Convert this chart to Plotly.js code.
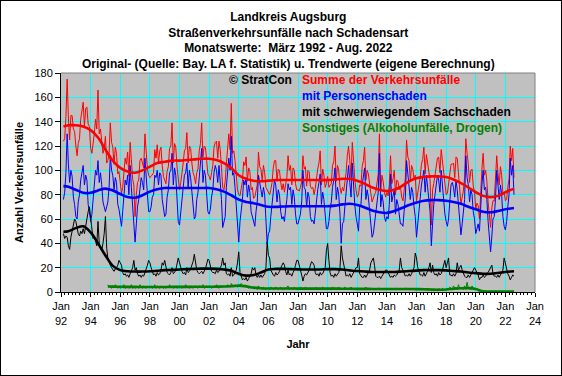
<!DOCTYPE html>
<html><head><meta charset="utf-8">
<script src="https://cdn.plot.ly/plotly-3.0.1.min.js"></script>
<style>html,body{margin:0;padding:0;background:#fff}#wrap{width:560px;height:374px;border:1px solid #000}#chart{width:560px;height:374px}</style>
</head><body><div id="wrap"><div id="chart"></div></div>
<script>
// monthly series start March 1992 (green from March 1995), end Aug 2022
const startYear = 1992, startMon = 3;
const greenStartYear = 1995, greenStartMon = 3;

const summe = [
124,126,144,175,143,125,145,145,134,132,
120,112,122,126,142,148,156,136,151,152,138,136,
118,114,120,130,142,134,166,130,134,122,114,118,
128,106,108,114,139,123,119,105,119,114,97,99,
89,81,86,98,110,105,115,95,123,109,93,88,
62,80,90,92,108,110,107,102,130,113,101,96,
94,95,97,98,117,110,121,106,116,119,104,95,
92,89,99,103,118,120,139,106,122,119,103,90,
84,90,96,106,116,118,131,106,120,118,106,98,
95,89,98,101,116,122,139,111,120,119,108,97,
95,92,98,104,119,123,124,110,124,117,102,86,
84,91,105,116,130,117,155,114,116,108,93,84,
80,79,85,91,107,104,111,91,102,99,84,86,
77,78,83,88,115,103,101,92,104,98,86,84,
81,80,84,90,102,108,108,91,101,100,90,84,
89,82,88,94,112,100,104,88,102,100,89,84,
84,83,86,91,112,101,103,87,100,99,87,85,
86,80,85,94,101,106,116,88,101,96,86,89,
95,86,87,89,104,107,120,91,104,100,86,81,
86,83,90,98,112,120,108,94,123,102,93,84,
78,80,88,87,103,108,119,92,100,97,86,81,
74,78,80,82,88,97,130,83,96,91,82,78,
82,79,88,112,89,93,100,80,92,91,84,87,
78,75,83,94,125,111,108,91,104,101,93,96,
75,81,86,94,105,109,119,97,113,106,96,92,
55,84,89,96,107,110,111,98,117,109,98,92,
80,81,90,98,105,105,106,94,111,110,96,85,
72,78,83,94,126,114,105,90,100,101,87,82,
68,73,71,60,86,101,114,96,100,91,74,66,
53,69,75,75,90,112,98,88,103,96,80,82,
75,76,86,93,120,108,118,94];

const personen = [
76,82,98,130,105,90,100,95,78,72,
62,60,74,80,92,100,104,88,96,92,72,66,
58,64,76,84,100,96,108,90,98,88,74,70,
66,70,74,86,112,100,96,84,94,90,72,68,
62,54,66,78,92,88,96,80,104,86,70,58,
41,56,70,76,88,94,90,84,110,92,74,66,
66,70,78,80,96,94,100,88,98,96,76,70,
62,64,78,84,98,100,114,88,102,96,78,58,
55,66,76,86,96,98,106,86,100,94,80,70,
60,62,76,82,96,102,118,90,100,96,80,66,
64,68,78,84,98,104,100,90,104,92,76,53,
58,62,86,96,110,100,128,96,98,86,70,56,
41,58,66,76,92,88,94,78,88,82,66,62,
56,54,66,74,96,88,84,78,86,80,64,40,
48,50,62,72,86,92,88,74,84,80,66,60,
62,58,68,76,89,84,86,72,84,78,64,56,
56,60,64,74,100,86,84,70,82,78,62,58,
59,56,66,76,84,90,97,72,82,76,64,52,
52,58,68,74,86,92,102,76,86,80,64,40,
56,58,70,82,96,104,90,78,106,84,72,62,
55,50,70,72,88,94,102,76,84,78,66,54,
45,48,56,66,74,82,114,70,80,74,62,58,
62,60,72,97,74,78,84,64,76,72,64,56,
56,54,66,78,108,96,90,76,86,82,70,62,
45,58,68,78,88,94,100,82,96,86,74,66,
38,60,72,80,90,96,92,82,100,88,74,64,
58,54,60,80,88,90,86,78,92,84,72,62,
47,56,66,76,112,94,88,74,84,80,66,60,
48,54,56,50,74,88,100,84,86,76,58,48,
33,46,60,62,76,100,84,76,88,80,62,54,
51,58,70,80,110,96,104,80];

const sachschaden = [
48,44,46,45,38,35,45,50,56,60,
58,52,48,46,50,48,52,48,55,60,66,70,
60,50,44,46,42,38,58,40,36,34,40,48,
62,36,28,24,22,20,18,17,19,20,22,26,
24,22,16,14,15,13,14,12,15,17,20,26,
18,20,15,13,14,12,14,13,16,18,22,26,
24,20,16,14,15,13,16,14,15,18,24,22,
26,22,16,15,14,16,20,15,16,18,22,28,
24,20,17,15,16,14,20,16,17,19,22,25,
31,22,18,16,15,16,17,15,17,19,23,27,
26,20,17,16,16,15,18,16,17,20,22,28,
22,24,15,14,15,13,20,13,14,16,18,24,
33,16,12,10,11,10,12,9,11,13,15,20,
18,20,14,12,14,12,14,12,14,15,20,41,
30,28,18,15,14,13,16,14,15,17,20,22,
24,22,17,14,18,14,15,13,16,18,22,26,
26,20,18,14,9,13,15,14,16,18,22,25,
24,22,16,14,15,13,16,14,15,17,20,34,
40,26,16,13,14,12,15,13,15,16,20,38,
28,22,16,13,14,13,15,12,14,16,18,20,
20,28,15,13,12,12,14,12,14,16,18,24,
26,28,22,13,12,12,13,11,13,15,17,18,
18,16,14,12,13,12,14,13,14,16,18,28,
20,18,15,13,14,13,15,13,15,17,20,32,
28,20,16,14,14,13,16,13,15,17,20,24,
16,22,16,14,15,13,16,14,15,18,22,26,
20,24,28,14,14,13,15,13,15,24,18,20,
22,18,15,13,12,12,14,12,14,16,18,20,
18,16,14,10,12,12,14,12,13,15,16,18,
20,22,15,13,13,12,14,12,14,16,18,28,
24,18,15,13,10,12,14,13];

const sonstiges = [
6,4,5,3,5,4,6,4,3,5,
3,5,4,6,3,4,5,3,4,6,3,4,
3,4,5,3,6,4,3,5,4,3,5,4,
4,5,3,4,6,3,5,4,3,5,4,3,
4,3,5,4,6,4,5,3,4,5,3,4,
5,4,3,5,4,6,5,4,3,5,4,3,
4,5,4,3,5,4,4,6,3,4,5,4,
5,4,3,4,5,4,6,4,3,5,4,5,
4,5,4,6,5,4,7,5,4,6,5,4,
6,5,7,5,4,6,5,4,3,4,3,4,
3,4,3,2,5,3,3,2,4,3,2,3,
3,2,4,3,2,3,4,3,2,3,4,2,
3,2,3,4,5,2,3,3,2,4,3,2,
2,3,4,3,3,2,4,3,2,3,3,2,
3,2,3,4,2,3,3,2,4,3,2,3,
3,2,3,2,4,3,3,2,3,4,2,3,
2,3,4,3,2,3,3,4,3,2,3,2,
3,2,3,2,3,2,3,4,2,3,2,3,
3,2,2,3,2,3,3,2,3,2,3,2,
2,3,2,3,2,3,2,3,2,3,2,3,
2,3,2,3,3,2,3,2,3,2,3,2,
2,3,2,2,3,2,3,2,2,3,2,2,
1,2,1,2,2,1,3,2,2,3,2,2,
2,3,2,4,3,2,5,3,4,2,6,3,
3,4,2,5,2,8,3,4,2,5,3,2,
2,3,1,0,0,1,0,0,1,0,0,0,
0,1,0,0,1,0,0,0,1,0,0,0,
0,0,1,0,0,0,0,1];

const trendMonths = ['1992-03','1992-07',
'1993-01','1993-07','1994-01','1994-07','1995-01','1995-07','1996-01','1996-07','1997-01','1997-07',
'1998-01','1998-07','1999-01','1999-07','2000-01','2000-07','2001-01','2001-07','2002-01','2002-07',
'2003-01','2003-07','2004-01','2004-07','2005-01','2005-07','2006-01','2006-07','2007-01','2007-07',
'2008-01','2008-07','2009-01','2009-07','2010-01','2010-07','2011-01','2011-07','2012-01','2012-07',
'2013-01','2013-07','2014-01','2014-07','2015-01','2015-07','2016-01','2016-07','2017-01','2017-07',
'2018-01','2018-07','2019-01','2019-07','2020-01','2020-07','2021-01','2021-07','2022-01','2022-08'];

const trendSumme = [136,137,
137,136,133,127,117,108,102,99,98,100,
103,106,107,108,108,108.5,109,109.5,109.5,108.5,
106,102,96,93,91.5,91,91.5,92,92,92,
92,92,92,92,92,92.5,93,93,91.5,89,
86,84,83,84,87,91,93.5,94.5,95,95,
94.5,92.5,89.5,86,82,79,78,79,82,85];

const trendPersonen = [87,86.5,
84,81.5,81.5,83.5,85,83.5,80.5,78,77.5,79.5,
82.5,84.5,85.5,85.5,85.5,85.5,85.5,85.5,85.5,84.5,
82.5,79.5,76,74,73,71.5,70,70,70.3,70.5,
70.5,70.5,70.5,70.5,70.5,71,72,72.5,71.5,69.5,
67,65.5,65,66.5,69,71.5,73.5,75,75.5,75.5,
75,74,72.5,70,68,66,65.5,66.5,68,69];

const trendSach = [49.5,50,
52.5,54,49,40,30,21.5,18,17,16.8,16.8,
17,17.5,18,18.2,18.5,18.8,19,19.2,19.2,19,
18.5,17.5,15,13.5,14,16,18.5,19,19,18.8,
18.6,18.5,18.5,18.5,18.8,18.8,18.5,17.8,17.2,16.8,
16.5,16.5,16.5,16.5,16.8,17.2,17.6,18,18,18,
17.8,17.3,16.8,16,15.5,15,15,15.6,16.5,17];

const greenTrendMonths = ['1995-03','1995-07','1996-01','1996-07','1997-01','1997-07',
'1998-01','1998-07','1999-01','1999-07','2000-01','2000-07','2001-01','2001-07','2002-01','2002-07',
'2003-01','2003-07','2004-01','2004-07','2005-01','2005-07','2006-01','2006-07','2007-01','2007-07',
'2008-01','2008-07','2009-01','2009-07','2010-01','2010-07','2011-01','2011-07','2012-01','2012-07',
'2013-01','2013-07','2014-01','2014-07','2015-01','2015-07','2016-01','2016-07','2017-01','2017-07',
'2018-01','2018-07','2019-01','2019-07','2020-01','2020-07','2021-01','2021-07','2022-01','2022-08'];

const trendSonst = [4.5,4.4,4.3,4.2,4.2,4.1,
4.1,4.1,4.1,4.2,4.2,4.2,4.3,4.3,4.3,4.4,
4.5,4.8,5.2,4.6,3.6,3.1,2.9,2.9,2.9,2.9,
2.8,2.8,2.8,2.8,2.8,2.8,2.7,2.7,2.6,2.6,
2.5,2.5,2.5,2.5,2.5,2.5,2.4,2.3,2.0,1.8,
2.1,2.7,3.1,3.2,2.4,0.6,0.3,0.3,0.3,0.3];

const tickYears = [1992,1994,1996,1998,2000,2002,2004,2006,2008,2010,2012,2014,2016,2018,2020,2022,2024];

const seriesNames = ['Summe der Verkehrsunfälle','mit Personenschaden','mit schwerwiegendem Sachschaden','Sonstiges (Alkoholunfälle, Drogen)'];
const seriesColors = ['#FF0000','#0000FF','#000000','#008000'];

function monthDates(y, m, n){
  const out = [];
  for (let i = 0; i < n; i++){
    out.push(y + '-' + String(m).padStart(2,'0') + '-01');
    m++; if (m > 12){ m = 1; y++; }
  }
  return out;
}
const toDate = s => s + '-01';

const xMain = monthDates(startYear, startMon, summe.length);
const xGreen = monthDates(greenStartYear, greenStartMon, sonstiges.length);
const xTrend = trendMonths.map(toDate);
const xGreenTrend = greenTrendMonths.map(toDate);

const raw = (x, y, c) => ({x, y, type:'scatter', mode:'lines', line:{color:c, width:1}, hoverinfo:'skip', showlegend:false});
const trend = (x, y, c) => ({x, y, type:'scatter', mode:'lines', line:{color:c, width:2.6, shape:'spline', smoothing:1}, hoverinfo:'skip', showlegend:false});

const data = [
  raw(xMain, summe, seriesColors[0]),
  raw(xMain, personen, seriesColors[1]),
  raw(xMain, sachschaden, seriesColors[2]),
  raw(xGreen, sonstiges, seriesColors[3]),
  trend(xTrend, trendSumme, seriesColors[0]),
  trend(xTrend, trendPersonen, seriesColors[1]),
  trend(xTrend, trendSach, seriesColors[2]),
  trend(xGreenTrend, trendSonst, seriesColors[3])
];

const F = 'Liberation Sans, Arial, sans-serif';
const bold = (size, color) => ({family:F, size:size, color:color||'#000', weight:'bold'});

const legendY = [0.968, 0.895, 0.822, 0.749];
const annotations = [
  {text:'© StratCon', xref:'paper', yref:'paper', x:0.350, y:0.968, xanchor:'left', yanchor:'middle', showarrow:false, font:bold(12)}
].concat(seriesNames.map((n,i)=>({
  text:n, xref:'paper', yref:'paper', x:0.504, y:legendY[i], xanchor:'left', yanchor:'middle', showarrow:false, font:bold(12, seriesColors[i])
})));

const layout = {
  width:560, height:374,
  margin:{l:60, r:26, t:72, b:83},
  paper_bgcolor:'#FFFFFF', plot_bgcolor:'#C0C0C0',
  title:{text:'Landkreis Augsburg<br>Straßenverkehrsunfälle nach Schadensart<br>Monatswerte:  März 1992 - Aug. 2022<br>Original- (Quelle: Bay. LA f. Statistik) u. Trendwerte (eigene Berechnung)',
    font:bold(12), xref:'container', x:0.513, xanchor:'center', yref:'container', y:0.946, yanchor:'top'},
  xaxis:{type:'date', range:['1992-01-01','2024-01-01'],
    tickvals:tickYears.map(y=>y+'-01-01'), ticktext:tickYears.map(y=>'Jan<br>'+String(y).slice(2)),
    tickangle:0, tickfont:{family:F, size:11, color:'#000'},
    showgrid:true, gridcolor:'#00FFFF', gridwidth:1, zeroline:false,
    showline:true, linecolor:'#000', linewidth:1, ticks:'outside', ticklen:4, tickcolor:'#000',
    minor:{ticks:'outside', ticklen:2, tickcolor:'#000', dtick:'M3', tick0:'1992-01-01', showgrid:false},
    title:{text:'Jahr', font:bold(11), standoff:14}},
  yaxis:{range:[0,180], tick0:0, dtick:20, tickfont:{family:F, size:11, color:'#000'},
    showgrid:true, gridcolor:'#00FFFF', gridwidth:1, zeroline:false,
    showline:true, linecolor:'#000', linewidth:1, ticks:'outside', ticklen:5, tickcolor:'#000',
    title:{text:'Anzahl Verkehrsunfälle', font:bold(11), standoff:8}},
  shapes:[
    {type:'line', xref:'paper', yref:'paper', x0:0, x1:1, y0:1, y1:1, line:{color:'#808080', width:1}},
    {type:'line', xref:'paper', yref:'paper', x0:1, x1:1, y0:0, y1:1, line:{color:'#808080', width:1}}
  ],
  annotations:annotations,
  showlegend:false
};

Plotly.newPlot('chart', data, layout, {staticPlot:true, displayModeBar:false});
</script>
</body></html>
